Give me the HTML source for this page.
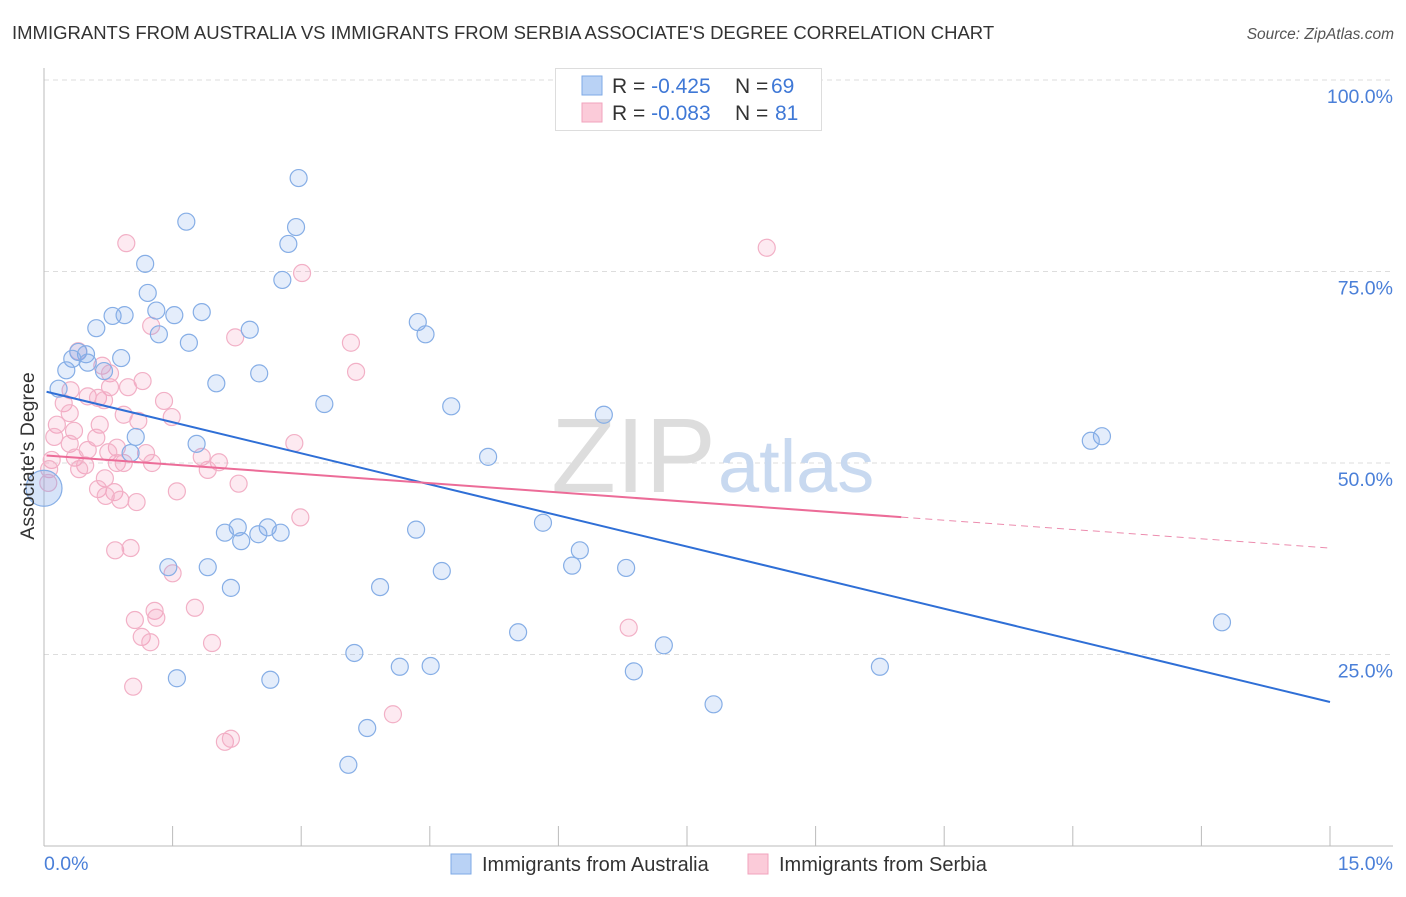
<!DOCTYPE html>
<html><head><meta charset="utf-8"><style>
body{margin:0;background:#fff;font-family:"Liberation Sans",sans-serif;}
svg text{font-family:"Liberation Sans",sans-serif;}
</style></head><body>
<svg id="chart" width="1406" height="892">
<text x="12" y="39" font-size="18.5" fill="#333">IMMIGRANTS FROM AUSTRALIA VS IMMIGRANTS FROM SERBIA ASSOCIATE'S DEGREE CORRELATION CHART</text>
<text x="1394" y="39" font-size="15.5" fill="#555" font-style="italic" text-anchor="end">Source: ZipAtlas.com</text>
<g id="grid"></g>
<text x="716" y="492" font-size="106" fill="#ddd" text-anchor="end" font-family="Liberation Serif">ZIP</text>
<text x="718" y="492" font-size="74" fill="#c8d9f0">atlas</text>
<g id="pts"></g>
<g id="lines"></g>
<text transform="translate(34,456) rotate(-90)" font-size="19.5" fill="#333" text-anchor="middle">Associate's Degree</text>
<text x="44" y="870" font-size="19.5" fill="#4a7fd8">0.0%</text>
<text x="1393" y="870" font-size="19.5" fill="#4a7fd8" text-anchor="end">15.0%</text>
<g>
<rect x="555.5" y="68.5" width="266" height="62" fill="#fff" stroke="#ddd"/>
<rect x="582" y="76" width="20" height="19" fill="#b9d2f5" stroke="#7ea9e6"/>
<rect x="582" y="103" width="20" height="19" fill="#fbcbd9" stroke="#f2a3bd"/>
<text x="612" y="93" font-size="21" fill="#333">R = <tspan fill="#3f78d6">-0.425</tspan><tspan x="735">N = </tspan><tspan fill="#3f78d6" x="771">69</tspan></text>
<text x="612" y="120" font-size="21" fill="#333">R = <tspan fill="#3f78d6">-0.083</tspan><tspan x="735">N = </tspan><tspan fill="#3f78d6" x="775">81</tspan></text>
</g>
<g>
<rect x="451" y="854" width="20" height="20" fill="#b9d2f5" stroke="#7ea9e6"/>
<text x="482" y="871" font-size="20" fill="#333">Immigrants from Australia</text>
<rect x="748" y="854" width="20" height="20" fill="#fbcbd9" stroke="#f2a3bd"/>
<text x="779" y="871" font-size="20" fill="#333">Immigrants from Serbia</text>
</g>
</svg>
<script>
const yTicks=[100,75,50,25];
const yTickLabels=["100.0%","75.0%","50.0%","25.0%"];
const xTicks=[0,1.5,3,4.5,6,7.5,9,10.5,12,13.5,15];
const ausX=[2.97,1.66,2.94,2.85,1.18,2.78,1.21,1.31,1.52,1.84,0.80,0.94,0.61,2.40,1.34,1.69,0.40,0.49,0.33,0.51,0.90,0.26,0.70,2.51,2.01,0.17,3.27,4.75,4.36,4.45,6.53,1.07,1.78,1.01,5.18,12.34,12.21,5.82,4.34,2.26,2.61,2.11,2.30,2.50,2.76,6.25,1.45,1.91,6.16,6.79,4.64,2.18,3.92,13.74,5.53,7.23,3.62,4.15,4.51,6.88,9.75,1.55,2.64,7.81,3.77,3.55];
const ausY=[87.2,81.5,80.8,78.6,76.0,73.9,72.2,69.9,69.3,69.7,69.2,69.3,67.6,67.4,66.8,65.7,64.5,64.2,63.6,63.1,63.7,62.1,62.0,61.7,60.4,59.7,57.7,57.4,68.4,66.8,56.3,53.4,52.5,51.3,50.8,53.5,52.9,42.2,41.3,41.6,41.6,40.9,39.8,40.7,40.9,38.6,36.4,36.4,36.6,36.3,35.9,33.7,33.8,29.2,27.9,26.2,25.2,23.4,23.5,22.8,23.4,21.9,21.7,18.5,15.4,10.6];
const serX=[0.96,8.43,3.01,1.25,2.23,3.58,3.64,0.40,0.68,0.77,1.15,0.98,0.77,0.31,0.51,0.63,0.70,0.23,1.40,0.93,1.49,1.10,0.30,0.15,0.65,0.35,0.12,0.61,0.30,0.85,0.51,0.75,1.19,0.36,0.09,1.84,2.04,2.92,0.48,0.85,0.93,1.26,0.06,0.41,1.91,0.71,0.05,2.27,0.63,0.82,1.55,0.72,0.89,1.08,2.99,0.83,1.01,1.50,1.76,1.29,1.31,1.06,1.14,1.24,1.96,6.82,1.04,4.07,2.11,2.18];
const serY=[78.7,78.1,74.8,67.9,66.4,65.7,61.9,64.6,62.7,61.7,60.7,59.9,59.9,59.5,58.7,58.5,58.2,57.8,58.1,56.3,56.0,55.5,56.5,55.0,55.0,54.2,53.4,53.3,52.5,52.0,51.7,51.4,51.3,50.7,50.4,50.8,50.1,52.6,49.7,50.0,50.0,50.0,49.2,49.2,49.1,48.0,47.4,47.3,46.6,46.2,46.3,45.7,45.2,44.9,42.9,38.6,38.9,35.6,31.1,30.7,29.8,29.5,27.3,26.6,26.5,28.5,20.8,17.2,13.6,14.0];
const ausTrend=[59.3,18.8];
const serTrend=[51.0,38.9];
const serSolidEnd=10.0;
const NS='http://www.w3.org/2000/svg';
const X=v=>44+v/15*1286, Y=v=>846-v*7.66;
function mk(t,a,p){const e=document.createElementNS(NS,t);for(const k in a)e.setAttribute(k,a[k]);p.appendChild(e);return e;}
const grid=document.getElementById('grid');
yTicks.forEach((t,i)=>{
 const l=mk('line',{x1:44,x2:1393,y1:Y(t),y2:Y(t),stroke:'#ddd','stroke-dasharray':'5,4'},grid);
 
 
 const tx=mk('text',{x:1393,y:Y(t)+23,'font-size':19.5,fill:'#4a7fd8','text-anchor':'end'},grid);
 tx.textContent=yTickLabels[i];
 
 
});
const ax=mk('line',{x1:44,x2:44,y1:68,y2:846,stroke:'#bbb'},grid);


const bx=mk('line',{x1:44,x2:1393,y1:846,y2:846,stroke:'#bbb'},grid);


xTicks.forEach(t=>{
 const l=mk('line',{x1:X(t),x2:X(t),y1:826,y2:846,stroke:'#bbb'},grid);
 
 
});
const pts=document.getElementById('pts');
serX.forEach((v,i)=>{
 const c=mk('circle',{cx:X(v),cy:Y(serY[i]),r:8.5,fill:'rgba(244,150,185,0.2)',stroke:'#f2b0c6','stroke-width':1.2},pts);
 
 
});
ausX.forEach((v,i)=>{
 const c=mk('circle',{cx:X(v),cy:Y(ausY[i]),r:8.5,fill:'rgba(120,165,235,0.2)',stroke:'#86aee6','stroke-width':1.2},pts);
 
 
});
const big=mk('circle',{cx:X(0),cy:Y(46.7),r:18,fill:'rgba(120,165,235,0.3)',stroke:'#86aee6','stroke-width':1.2},pts);


const lines=document.getElementById('lines');
const bl=mk('line',{x1:X(0.03),y1:Y(ausTrend[0]),x2:X(15),y2:Y(ausTrend[1]),stroke:'#2f6fd6','stroke-width':2},lines);


const sAt=x=>serTrend[0]+(serTrend[1]-serTrend[0])*x/15;
const pl=mk('line',{x1:X(0.03),y1:Y(sAt(0.03)),x2:X(serSolidEnd),y2:Y(sAt(serSolidEnd)),stroke:'#ec6c98','stroke-width':2},lines);


const pd=mk('line',{x1:X(serSolidEnd),y1:Y(sAt(serSolidEnd)),x2:X(15),y2:Y(serTrend[1]),stroke:'#ec8cae','stroke-width':1,'stroke-dasharray':'7,5'},lines);


</script>
</body></html>
